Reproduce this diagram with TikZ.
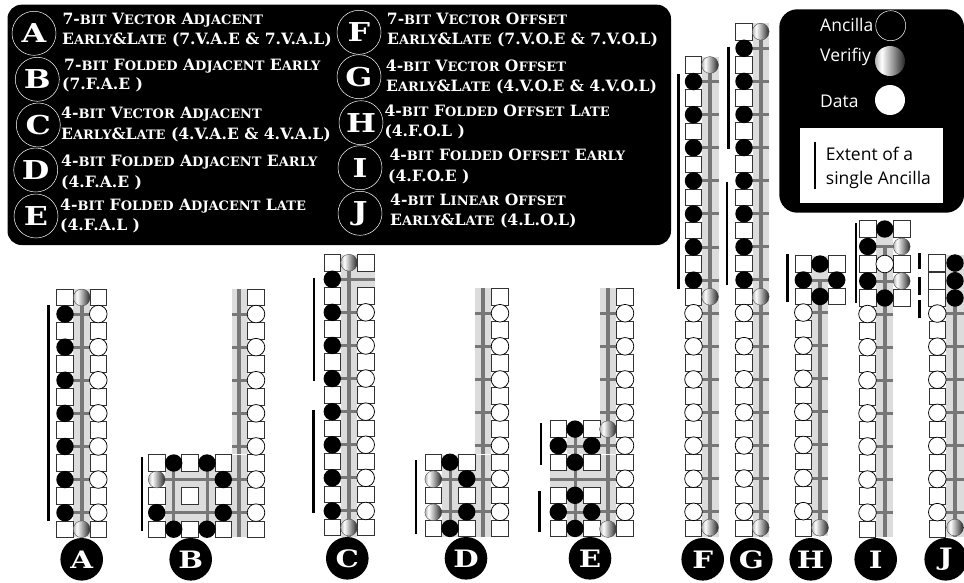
\documentclass[tikz,border=0pt]{standalone}
\usepackage{fontspec}
\setmainfont{Open Sans}
\newfontfamily\cpfont{DejaVu Serif}
\newfontfamily\cpwide[FakeStretch=1.22]{DejaVu Serif}
\definecolor{bandc}{HTML}{DCDCDC}
\definecolor{railc}{HTML}{777777}
\definecolor{sqc}{HTML}{333333}
\pgfdeclarehorizontalshading{vshade}{100bp}{color(0bp)=(black!30);color(25bp)=(black!30);color(36bp)=(white);color(75bp)=(black!85);color(100bp)=(black!85)}
\newcommand\RS{16.55}
\newcommand\SQ[2]{\draw[sqs] (#1,#2) +(-8.3,-8.3) rectangle +(8.3,8.3);}
\newcommand\BL[2]{\fill[black] (#1,#2) circle[radius=8.7];}
\newcommand\DA[2]{\draw[dats] (#1,#2) circle[radius=8.8];}
\newcommand\VE[2]{\shade[shading=vshade] (#1,#2) circle[radius=8.4];\draw[black!70,line width=.4pt] (#1,#2) circle[radius=8.4];}
\newcommand\SQS[3]{\foreach\k in {#3}{\SQ{#1}{#2+\RS*\k}}}
\newcommand\BLS[3]{\foreach\k in {#3}{\BL{#1}{#2+\RS*\k}}}
\newcommand\DAS[3]{\foreach\k in {#3}{\DA{#1}{#2+\RS*\k}}}
\newcommand\STS[4]{\foreach\k in {#4}{\draw[stubs] (#1,#3+\RS*\k) -- (#2,#3+\RS*\k);}}
\newcommand\BAND[4]{\fill[bandc] (#1,#2) rectangle (#3,#4);}
\newcommand\RAIL[4]{\draw[rails] (#1,#2) -- (#3,#4);}
\newcommand\STUB[4]{\draw[stubs] (#1,#2) -- (#3,#4);}
\newcommand\EXT[3]{\draw[exts] (#1,#2) -- (#1,#3);}
\newcommand\sm[1]{{\fontsize{13}{13}\selectfont #1}}
\newcommand\KC[4]{\draw[keyc] (#2,#3) circle[radius=22];\node[keyl,name=key#1] at (#2,#3) {#4};}
\newcommand\TX[4]{\node[keyt,name=#1] at (#2,#3) {#4};}
\newcommand\BC[3]{\fill[black] (#1,#2) circle[radius=21.3];\node[botl,name=bot#3] at (#1,#2) {#3};}
\tikzset{
 sqs/.style={draw=sqc,fill=white,line width=.75pt},
 dats/.style={draw=black,fill=white,line width=.75pt},
 rails/.style={draw=railc,line width=4pt},
 stubs/.style={draw=railc,line width=3pt},
 exts/.style={draw=black,line width=2.6pt},
 keyc/.style={draw=white,line width=.5pt},
 keyl/.style={text=white,font=\cpwide\bfseries\fontsize{26}{26}\selectfont,inner sep=0pt},
 botl/.style={text=white,font=\cpwide\bfseries\fontsize{24}{24}\selectfont,inner sep=0pt},
 keyt/.style={text=white,font=\cpfont\bfseries\fontsize{15.6}{16}\selectfont,inner sep=0pt,anchor=base west},
 legt/.style={text=white,font=\fontsize{17.5}{18}\selectfont,inner sep=0pt,anchor=base west},
 boxt/.style={text=black,font=\fontsize{17.5}{18}\selectfont,inner sep=0pt,anchor=base west},
}
\begin{document}
\begin{tikzpicture}[x=1pt,y=-1pt]
\useasboundingbox (0,0) rectangle (964,582);
% ---- key panel
\fill[black,rounded corners=14pt] (7.5,4.7) rectangle (671,245);
\KC{A}{34}{33.3}{A}\KC{B}{37.3}{79.3}{B}\KC{C}{38.3}{125}{C}\KC{D}{35.7}{170}{D}\KC{E}{36}{216}{E}
\KC{F}{359}{32.3}{F}\KC{G}{359}{76.7}{G}\KC{H}{361}{122.7}{H}\KC{I}{360}{167.7}{I}\KC{J}{360}{213.3}{J}
\TX{ta1}{62.3}{24}{7-\sm{BIT} V\sm{ECTOR} A\sm{DJACENT}}
\TX{ta2}{62}{44}{E\sm{ARLY}\&L\sm{ATE} (7.V.A.E \& 7.V.A.L)}
\TX{tb1}{64}{70}{7-\sm{BIT} F\sm{OLDED} A\sm{DJACENT} E\sm{ARLY}}
\TX{tb2}{62}{89.3}{(7.F.A.E )}
\TX{tc1}{61}{118.7}{4-\sm{BIT} V\sm{ECTOR} A\sm{DJACENT}}
\TX{tc2}{61}{139}{E\sm{ARLY}\&L\sm{ATE} (4.V.A.E \& 4.V.A.L)}
\TX{td1}{61}{166.7}{4-\sm{BIT} F\sm{OLDED} A\sm{DJACENT} E\sm{ARLY}}
\TX{td2}{61}{187.7}{(4.F.A.E )}
\TX{te1}{60}{210}{4-\sm{BIT} F\sm{OLDED} A\sm{DJACENT} L\sm{ATE}}
\TX{te2}{60}{230}{(4.F.A.L )}
\TX{tf1}{386.7}{24}{7-\sm{BIT} V\sm{ECTOR} O\sm{FFSET}}
\TX{tf2}{387}{44}{E\sm{ARLY}\&L\sm{ATE} (7.V.O.E \& 7.V.O.L)}
\TX{tg1}{385.7}{71.7}{4-\sm{BIT} V\sm{ECTOR} O\sm{FFSET}}
\TX{tg2}{386}{91.7}{E\sm{ARLY}\&L\sm{ATE} (4.V.O.E \& 4.V.O.L)}
\TX{th1}{384.3}{116.7}{4-\sm{BIT} F\sm{OLDED} O\sm{FFSET} L\sm{ATE}}
\TX{th2}{384.3}{136.7}{(4.F.O.L )}
\TX{ti1}{389.3}{160.7}{4-\sm{BIT} F\sm{OLDED} O\sm{FFSET} E\sm{ARLY}}
\TX{ti2}{388}{181}{(4.F.O.E )}
\TX{tj1}{390}{205}{4-\sm{BIT} L\sm{INEAR} O\sm{FFSET}}
\TX{tj2}{390}{225}{E\sm{ARLY}\&L\sm{ATE} (4.L.O.L)}
% ---- legend panel
\fill[black,rounded corners=18pt] (779.3,9.3) rectangle (964,212.7);
\fill[white] (800,127.7) rectangle (943.3,203.3);
\node[legt,name=lega] at (820,31.7) {Ancilla};
\node[legt,name=legv] at (820,61.7) {Verifiy};
\node[legt,name=legd] at (820,107.3) {Data};
\draw[white,line width=.5pt] (890.7,25.7) circle[radius=15];
\shade[shading=vshade] (890,61) circle[radius=15];
\fill[white] (890,100) circle[radius=15];
\EXT{815}{141.7}{189}
\node[boxt,name=box1] at (825.7,160.7) {Extent of a};
\node[boxt,name=box2] at (825.7,184) {single Ancilla};
% ---- A
\BAND{73}{289}{90}{537}
\RAIL{81.7}{289}{81.7}{537}
\STS{65}{98.3}{297.5}{1,3,...,13}
\SQS{65}{297.5}{0,2,...,14}\SQS{98.3}{297.5}{0,2,...,14}
\BLS{65}{297.5}{1,3,...,13}\DAS{98.3}{297.5}{1,3,...,13}
\VE{81.7}{297.5}\VE{81.7}{529.2}
\EXT{48.3}{305}{520.7}
% ---- B
\BAND{231.7}{289}{248.3}{537}
\BAND{165}{463}{231.7}{529}
\RAIL{239.3}{289}{239.3}{537}
\STS{231.7}{256}{297.5}{1,3,...,9}
\STUB{156.7}{479.5}{256}{479.5}\STUB{156.7}{512.6}{256}{512.6}
\STUB{173.7}{463}{173.7}{529}\STUB{207}{463}{207}{529}
\draw[white,line width=.6pt] (231.7,454.5) -- (248.3,454.5);
\SQS{256}{297.5}{0,2,...,14}\DAS{256}{297.5}{1,3,...,13}
\SQS{156.7}{297.5}{10,12,14}\SQS{223.3}{297.5}{10,12,14}\SQS{190}{297.5}{10,12,14}
\BLS{173.7}{297.5}{10,14}\BLS{207}{297.5}{10,14}\BLS{223.3}{297.5}{11,13}\BL{156.7}{512.6}
\VE{156.7}{479.5}
\EXT{142}{457}{531}
% ---- C
\BAND{340.7}{254.5}{357.3}{536.7}\BAND{357.3}{271.7}{375}{287.7}
\RAIL{349}{254.5}{349}{536.7}
\STUB{332.3}{279.3}{375}{279.3}
\STS{332.3}{365.7}{262.7}{3,5,...,15}
\SQS{332.3}{262.7}{0,2,...,16}\SQS{365.7}{262.7}{0,2,...,16}
\BLS{332.3}{262.7}{1,3,...,15}\DAS{365.7}{262.7}{3,5,...,15}
\VE{349}{262.7}\VE{349}{527.5}
\EXT{314}{278.3}{381}\EXT{313.7}{410}{512.7}
% ---- D
\BAND{475}{288.3}{491}{536.7}\BAND{441.5}{454.6}{475}{536.7}
\RAIL{482.7}{288.3}{482.7}{536.7}
\STS{475}{500}{296.7}{1,3,...,9}
\STUB{433.3}{479.2}{500}{479.2}\STUB{433.3}{511.8}{500}{511.8}\STUB{450}{463}{450}{528.5}
\draw[white,line width=.6pt] (441.5,454.6) -- (508,454.6);
\SQS{500}{296.7}{0,2,...,14}\DAS{500}{296.7}{1,3,...,13}
\SQS{433.3}{296.7}{10,12,14}\SQS{466.7}{296.7}{10,12,14}
\BLS{450}{296.7}{10,14}\BLS{466.7}{296.7}{11,13}
\VE{433.3}{479.2}\VE{433.3}{512.3}
\EXT{416}{460}{534.3}
% ---- E
\BAND{600}{288.3}{616}{536.7}\BAND{566.6}{437}{600}{536.7}\BAND{550}{470.8}{566.6}{487.8}
\RAIL{608}{288.3}{608}{536.7}
\STS{600}{625}{296.7}{1,3,...,7}\STS{591.7}{625}{296.7}{9,13}
\STUB{550}{479.3}{625}{479.3}
\STUB{558.3}{446}{591.7}{446}\STUB{558.3}{512.5}{591.7}{512.5}\STUB{575}{429.5}{575}{529}
\draw[white,line width=.6pt] (566.6,454.6) -- (633,454.6);
\SQS{625}{296.7}{0,2,...,14}\DAS{625}{296.7}{1,3,...,13}
\SQS{558.3}{296.7}{8,10,12,14}\SQS{591.7}{296.7}{8,10,12,14}
\BLS{575}{296.7}{8,10,12,14}\BLS{558.3}{296.7}{9,13}\BLS{591.7}{296.7}{9,13}
\VE{608}{429.2}\VE{608}{529}
\EXT{541}{423.3}{465}\EXT{539.7}{491}{532.3}
% ---- F
\BAND{702.3}{56.7}{719}{537}
\RAIL{710}{65}{710}{537}
\STS{693.5}{719}{65}{1,3,...,13,15,17,...,27}
\SQS{693.5}{65}{0,2,...,28}
\BLS{693.5}{65}{1,3,...,13}\DAS{693.5}{65}{15,17,...,27}
\VE{710}{65}\VE{710}{296.7}\VE{710}{527.5}
\EXT{678.7}{74}{289.3}
% ---- G
\BAND{752.7}{23.4}{769.3}{537}
\RAIL{760.7}{31.7}{760.7}{537}
\STS{744}{769.3}{31.7}{1,3,...,15,17,19,...,29}
\SQS{744}{31.7}{0,2,...,30}
\BLS{744}{31.7}{1,3,...,15}\DAS{744}{31.7}{17,19,...,29}
\VE{760.7}{31.7}\VE{760.7}{296.7}\VE{760.7}{527.5}
\EXT{728.3}{46.7}{149}\EXT{727}{181.7}{285}
% ---- H
\BAND{811}{256}{828}{536}
\RAIL{820}{280}{820}{536}
\STUB{803.3}{280}{836.7}{280}
\STS{803.3}{828}{296}{1,3,...,13}
\SQ{803.3}{264}\SQ{836.7}{264}\SQ{803.3}{296.5}\SQ{836.7}{296.5}
\SQS{803.3}{296}{2,4,...,14}
\BL{820}{264}\BL{803.3}{280}\BL{836.7}{280}\BL{820}{296.5}
\DAS{803.3}{296}{1,3,...,13}
\VE{820}{527.7}
\EXT{787.7}{254}{301.7}
% ---- I
\BAND{876}{230}{892.7}{537}
\RAIL{884.5}{246.5}{884.5}{537}
\STUB{867.5}{246.5}{901.7}{246.5}\STUB{867.5}{281}{901.7}{281}
\STS{867.5}{892.7}{297.5}{1,3,...,13}
\SQ{867.7}{229}\SQ{901.7}{229}\SQ{867.7}{264}\SQ{901.7}{264}\SQ{867.7}{298}\SQ{901.7}{298}
\SQS{867.5}{297.5}{2,4,...,14}
\BL{884.7}{229}\BL{867.7}{246.5}\BL{867.7}{281}\BL{884.7}{298}
\DA{884.7}{264}
\VE{901.7}{246.5}\VE{901.7}{281}
\DAS{867.5}{297.5}{1,3,...,13}
\EXT{856}{223}{303}
% ---- J
\BAND{946}{255}{964}{537}
\RAIL{955}{263}{955}{537}
\STS{937.3}{964}{297}{1,3,...,13}
\SQ{937}{263}\SQ{937}{280.7}\SQ{937}{298}
\SQS{937.3}{297}{2,4,...,14}
\BL{955}{263}\BL{955}{280.7}\BL{955}{298}
\DAS{937.3}{297}{1,3,...,13}
\VE{955}{527.5}
\EXT{919.3}{253}{269}\EXT{919.3}{277}{295}\EXT{919.3}{300}{318}
% ---- bottom labels
\BC{81.7}{559.3}{A}\BC{190.7}{559.3}{B}\BC{347.3}{558.3}{C}\BC{466}{558.3}{D}\BC{590}{558.3}{E}
\BC{702.7}{559.3}{F}\BC{751.3}{559.3}{G}\BC{810.7}{559.3}{H}\BC{875.7}{559.3}{I}\BC{945.7}{559.3}{J}
\end{tikzpicture}
\end{document}
